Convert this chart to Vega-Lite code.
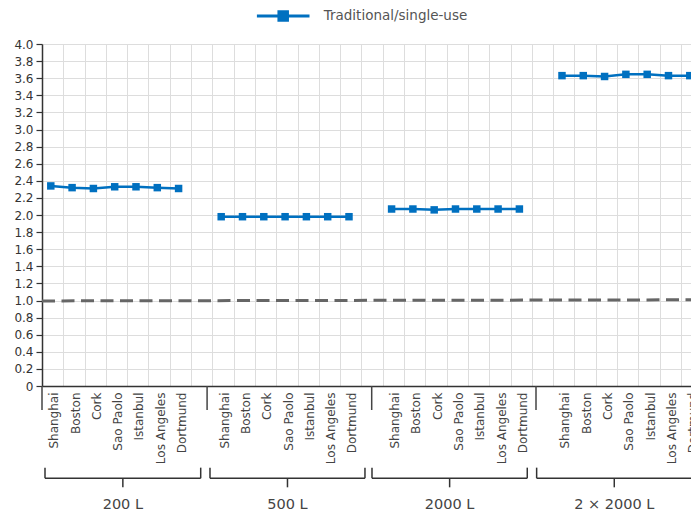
{
  "$schema": "https://vega.github.io/schema/vega-lite/v6.json",
  "width": 649,
  "height": 342,
  "autosize": {"type": "none"},
  "padding": {"left": 42, "top": 44, "right": 0, "bottom": 127},
  "config": {"view": {"stroke": null}, "font": "DejaVu Sans"},
  "datasets": {
    "main": [
      {"group": "200 L", "city": "Shanghai", "pos": 0, "value": 2.34, "series": "Traditional/single-use"},
      {"group": "200 L", "city": "Boston", "pos": 1, "value": 2.32, "series": "Traditional/single-use"},
      {"group": "200 L", "city": "Cork", "pos": 2, "value": 2.31, "series": "Traditional/single-use"},
      {"group": "200 L", "city": "Sao Paolo", "pos": 3, "value": 2.33, "series": "Traditional/single-use"},
      {"group": "200 L", "city": "Istanbul", "pos": 4, "value": 2.33, "series": "Traditional/single-use"},
      {"group": "200 L", "city": "Los Angeles", "pos": 5, "value": 2.32, "series": "Traditional/single-use"},
      {"group": "200 L", "city": "Dortmund", "pos": 6, "value": 2.31, "series": "Traditional/single-use"},
      {"group": "500 L", "city": "Shanghai", "pos": 8, "value": 1.98, "series": "Traditional/single-use"},
      {"group": "500 L", "city": "Boston", "pos": 9, "value": 1.98, "series": "Traditional/single-use"},
      {"group": "500 L", "city": "Cork", "pos": 10, "value": 1.98, "series": "Traditional/single-use"},
      {"group": "500 L", "city": "Sao Paolo", "pos": 11, "value": 1.98, "series": "Traditional/single-use"},
      {"group": "500 L", "city": "Istanbul", "pos": 12, "value": 1.98, "series": "Traditional/single-use"},
      {"group": "500 L", "city": "Los Angeles", "pos": 13, "value": 1.98, "series": "Traditional/single-use"},
      {"group": "500 L", "city": "Dortmund", "pos": 14, "value": 1.98, "series": "Traditional/single-use"},
      {"group": "2000 L", "city": "Shanghai", "pos": 16, "value": 2.07, "series": "Traditional/single-use"},
      {"group": "2000 L", "city": "Boston", "pos": 17, "value": 2.07, "series": "Traditional/single-use"},
      {"group": "2000 L", "city": "Cork", "pos": 18, "value": 2.06, "series": "Traditional/single-use"},
      {"group": "2000 L", "city": "Sao Paolo", "pos": 19, "value": 2.07, "series": "Traditional/single-use"},
      {"group": "2000 L", "city": "Istanbul", "pos": 20, "value": 2.07, "series": "Traditional/single-use"},
      {"group": "2000 L", "city": "Los Angeles", "pos": 21, "value": 2.07, "series": "Traditional/single-use"},
      {"group": "2000 L", "city": "Dortmund", "pos": 22, "value": 2.07, "series": "Traditional/single-use"},
      {"group": "2 × 2000 L", "city": "Shanghai", "pos": 24, "value": 3.63, "series": "Traditional/single-use"},
      {"group": "2 × 2000 L", "city": "Boston", "pos": 25, "value": 3.63, "series": "Traditional/single-use"},
      {"group": "2 × 2000 L", "city": "Cork", "pos": 26, "value": 3.62, "series": "Traditional/single-use"},
      {"group": "2 × 2000 L", "city": "Sao Paolo", "pos": 27, "value": 3.645, "series": "Traditional/single-use"},
      {"group": "2 × 2000 L", "city": "Istanbul", "pos": 28, "value": 3.645, "series": "Traditional/single-use"},
      {"group": "2 × 2000 L", "city": "Los Angeles", "pos": 29, "value": 3.63, "series": "Traditional/single-use"},
      {"group": "2 × 2000 L", "city": "Dortmund", "pos": 30, "value": 3.63, "series": "Traditional/single-use"}
    ],
    "ref": [
      {"pos": -0.413, "value": 0.995},
      {"pos": 30.057, "value": 1.008}
    ],
    "brackets": [
      {"label": "200 L", "start": -0.272, "end": 7.038, "center": 3.383},
      {"label": "500 L", "start": 7.474, "end": 14.75, "center": 11.112},
      {"label": "2000 L", "start": 15.08, "end": 22.37, "center": 18.725},
      {"label": "2 × 2000 L", "start": 22.81, "end": 30.1, "center": 26.455}
    ],
    "seps": [
      {"pos": -0.413},
      {"pos": 7.338},
      {"pos": 15.066},
      {"pos": 22.78}
    ]
  },
  "resolve": {"axis": {"x": "independent", "y": "independent"}},
  "layer": [
    {
      "data": {"name": "ref"},
      "mark": {"type": "line", "color": "#666666", "strokeWidth": 3, "strokeDash": [13, 6.5]},
      "encoding": {
        "x": {
          "field": "pos", "type": "quantitative",
          "scale": {"domain": [-0.413, 30.057], "nice": false, "zero": false},
          "axis": {
            "orient": "top", "title": null, "labels": false, "ticks": false, "domain": false,
            "grid": true, "gridColor": "#dddddd", "gridWidth": 1,
            "values": [0.587, 1.587, 2.587, 3.587, 4.587, 5.587, 6.587, 7.587, 8.587, 9.587, 10.587, 11.587, 12.587, 13.587, 14.587, 15.587, 16.587, 17.587, 18.587, 19.587, 20.587, 21.587, 22.587, 23.587, 24.587, 25.587, 26.587, 27.587, 28.587, 29.587]
          }
        },
        "y": {
          "field": "value", "type": "quantitative",
          "scale": {"domain": [0, 4], "nice": false, "zero": false},
          "axis": {
            "title": null,
            "values": [0, 0.2, 0.4, 0.6, 0.8, 1.0, 1.2, 1.4, 1.6, 1.8, 2.0, 2.2, 2.4, 2.6, 2.8, 3.0, 3.2, 3.4, 3.6, 3.8, 4.0],
            "labelExpr": "datum.value == 0 ? '0' : format(datum.value, '.1f')",
            "grid": true, "gridColor": "#dddddd", "gridWidth": 1,
            "domain": true, "domainColor": "#333333", "domainWidth": 1.5,
            "ticks": true, "tickColor": "#333333", "tickSize": 6, "tickWidth": 1.2,
            "labelPadding": 3, "labelFontSize": 12, "labelColor": "#333333"
          }
        }
      }
    },
    {
      "data": {"name": "main"},
      "mark": {"type": "line", "color": "#0070C0", "strokeWidth": 2.5},
      "encoding": {
        "x": {
          "field": "pos", "type": "quantitative",
          "scale": {"domain": [-0.413, 30.057], "nice": false, "zero": false},
          "axis": {
            "orient": "bottom", "title": null, "grid": false, "ticks": false,
            "domain": true, "domainColor": "#333333", "domainWidth": 1.5,
            "values": [0, 1, 2, 3, 4, 5, 6, 8, 9, 10, 11, 12, 13, 14, 16, 17, 18, 19, 20, 21, 22, 24, 25, 26, 27, 28, 29, 30],
            "labelExpr": "['Shanghai','Boston','Cork','Sao Paolo','Istanbul','Los Angeles','Dortmund',''][datum.value % 8]",
            "labelAngle": -90, "labelAlign": "right", "labelBaseline": "middle",
            "labelOffset": 3, "labelPadding": 6, "labelFontSize": 12, "labelColor": "#444444",
            "labelOverlap": false, "labelBound": false, "labelFlush": false
          }
        },
        "y": {"field": "value", "type": "quantitative", "scale": {"domain": [0, 4], "nice": false, "zero": false}, "axis": null},
        "detail": {"field": "group"}
      }
    },
    {
      "data": {"name": "main"},
      "mark": {"type": "point", "shape": "square", "filled": true, "size": 56, "opacity": 1},
      "encoding": {
        "x": {"field": "pos", "type": "quantitative", "scale": {"domain": [-0.413, 30.057], "nice": false, "zero": false}, "axis": null},
        "y": {"field": "value", "type": "quantitative", "scale": {"domain": [0, 4], "nice": false, "zero": false}, "axis": null},
        "color": {
          "field": "series", "type": "nominal",
          "scale": {"domain": ["Traditional/single-use"], "range": ["#0070C0"]},
          "legend": {
            "title": null, "orient": "none", "legendX": 214.7, "legendY": -54.6, "padding": 0,
            "symbolType": "M-1,-0.057H1V0.057H-1Z M-0.219,-0.219H0.219V0.219H-0.219Z",
            "symbolSize": 2767, "symbolStrokeWidth": 0, "symbolOpacity": 1,
            "labelOffset": 14, "labelFontSize": 13.5, "labelColor": "#555555"
          }
        }
      }
    },
    {
      "data": {"name": "seps"},
      "mark": {"type": "rule", "color": "#444444", "strokeWidth": 1.5},
      "encoding": {
        "x": {"field": "pos", "type": "quantitative", "scale": {"domain": [-0.413, 30.057], "nice": false, "zero": false}, "axis": null},
        "y": {"datum": 0, "type": "quantitative", "scale": {"domain": [0, 4], "nice": false, "zero": false}, "axis": null},
        "y2": {"datum": -0.281}
      }
    },
    {
      "data": {"name": "brackets"},
      "mark": {"type": "rule", "color": "#333333", "strokeWidth": 1.5},
      "encoding": {
        "x": {"field": "start", "type": "quantitative", "scale": {"domain": [-0.413, 30.057], "nice": false, "zero": false}, "axis": null},
        "x2": {"field": "end"},
        "y": {"datum": -1.079, "type": "quantitative", "scale": {"domain": [0, 4], "nice": false, "zero": false}, "axis": null}
      }
    },
    {
      "data": {"name": "brackets"},
      "mark": {"type": "rule", "color": "#333333", "strokeWidth": 1.5},
      "encoding": {
        "x": {"field": "start", "type": "quantitative", "scale": {"domain": [-0.413, 30.057], "nice": false, "zero": false}, "axis": null},
        "y": {"datum": -0.955, "type": "quantitative", "scale": {"domain": [0, 4], "nice": false, "zero": false}, "axis": null},
        "y2": {"datum": -1.079}
      }
    },
    {
      "data": {"name": "brackets"},
      "mark": {"type": "rule", "color": "#333333", "strokeWidth": 1.5},
      "encoding": {
        "x": {"field": "end", "type": "quantitative", "scale": {"domain": [-0.413, 30.057], "nice": false, "zero": false}, "axis": null},
        "y": {"datum": -0.955, "type": "quantitative", "scale": {"domain": [0, 4], "nice": false, "zero": false}, "axis": null},
        "y2": {"datum": -1.079}
      }
    },
    {
      "data": {"name": "brackets"},
      "mark": {"type": "rule", "color": "#333333", "strokeWidth": 1.5},
      "encoding": {
        "x": {"field": "center", "type": "quantitative", "scale": {"domain": [-0.413, 30.057], "nice": false, "zero": false}, "axis": null},
        "y": {"datum": -1.079, "type": "quantitative", "scale": {"domain": [0, 4], "nice": false, "zero": false}, "axis": null},
        "y2": {"datum": -1.185}
      }
    },
    {
      "data": {"name": "brackets"},
      "mark": {"type": "text", "fontSize": 14.5, "color": "#444444", "align": "center", "baseline": "middle"},
      "encoding": {
        "x": {"field": "center", "type": "quantitative", "scale": {"domain": [-0.413, 30.057], "nice": false, "zero": false}, "axis": null},
        "y": {"datum": -1.392, "type": "quantitative", "scale": {"domain": [0, 4], "nice": false, "zero": false}, "axis": null},
        "text": {"field": "label"}
      }
    }
  ]
}
